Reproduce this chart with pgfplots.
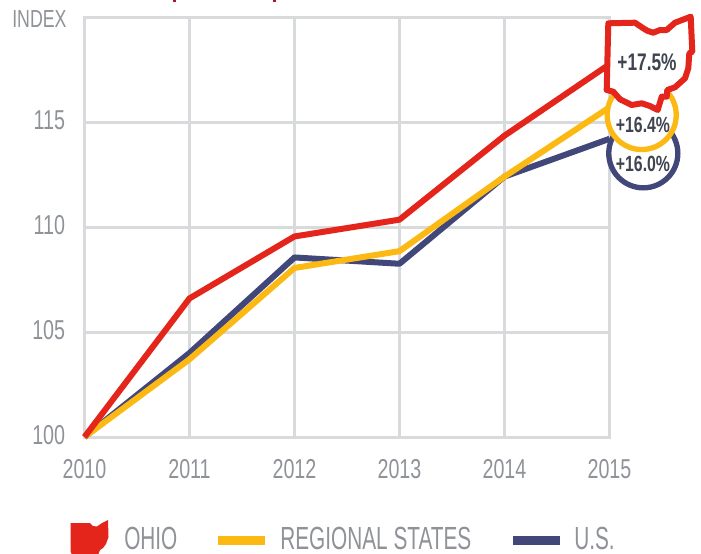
\documentclass[border=0pt]{standalone}
\usepackage{fontspec}
\setmainfont{Liberation Sans}[FakeStretch=0.72]
\newfontfamily\legfont{Liberation Sans}[FakeStretch=0.65]
\usepackage{pgfplots}
\pgfplotsset{compat=1.18}
\definecolor{gridc}{HTML}{D9DADB}
\definecolor{labc}{HTML}{8F9398}
\definecolor{ohio}{HTML}{E4251B}
\definecolor{reg}{HTML}{FDB913}
\definecolor{us}{HTML}{414778}
\definecolor{dark}{HTML}{3F4450}
\definecolor{crim}{HTML}{A6192E}
\def\ohioshape{(608.3,23.3) -- (635,22.7) -- (643.3,28.3) -- (647.3,30.7) -- (653.3,32.7) -- (660,30) -- (666.7,30) -- (675,22.7) -- (690.7,16.7) -- (692.3,51.7) -- (689.3,53.3) -- (688.3,68.3) -- (685,78.3) -- (675,87.3) -- (667.3,90) -- (666.7,96.7) -- (661.7,96.7) -- (657.7,110) -- (650,106) -- (641.7,103.3) -- (631.7,105) -- (620,99.3) -- (613.3,91.7) -- (606.7,90) -- cycle}
\begin{document}
\begin{tikzpicture}
\path (0pt,0pt) rectangle (525.75pt,-415.5pt);
\begin{axis}[
  at={(63.375pt,-327.75pt)}, anchor=south west,
  scale only axis, width=393.75pt, height=315pt,
  xmin=2010, xmax=2015, ymin=100, ymax=120,
  clip=false,
  xtick={2010,2011,2012,2013,2014,2015}, ytick={100,105,110,115},
  /pgf/number format/assume math mode=true,
  /pgf/number format/1000 sep={},
  tick style={draw=none},
  ticklabel style={font=\fontsize{20.5}{22}\selectfont, text=labc},
  xticklabel style={yshift=-13pt},
  yticklabel style={xshift=-11pt,yshift=1.5pt},
  grid=major,
  grid style={gridc,line width=2.25pt},
  axis line style={gridc,line width=2.25pt},
]
\addplot[us,line width=4.5pt,line join=round] coordinates {(2010,100) (2011,104.0) (2012,108.55) (2013,108.25) (2014,112.4) (2015,114.2)};
\addplot[reg,line width=4.5pt,line join=round] coordinates {(2010,100) (2011,103.7) (2012,108.05) (2013,108.85) (2014,112.4) (2015,115.7)};
\addplot[ohio,line width=4.5pt,line join=round] coordinates {(2010,100) (2011,106.6) (2012,109.55) (2013,110.35) (2014,114.35) (2015,117.75)};
\end{axis}
\begin{scope}[x=0.75pt,y=-0.75pt]
\fill[crim] (173,0) rectangle (176,1.5);
\fill[crim] (273,0) rectangle (276,1.5);
\node[anchor=base west,inner sep=0pt,text=labc,font=\fontsize{18.5}{22}\selectfont] at (12,27) {INDEX};
\draw[us,line width=4pt,fill=white] (643.3,153.3) circle[radius=25.9pt];
\draw[reg,line width=4pt,fill=white] (641.7,115) circle[radius=25.9pt];
\draw[ohio,line width=4.5pt,line join=round,fill=white] \ohioshape;
\node[text=dark,font=\bfseries\fontsize{18}{20}\selectfont,inner sep=0pt] at (647,62) {+17.5\%};
\node[text=dark,font=\bfseries\fontsize{16.5}{20}\selectfont,inner sep=0pt] at (643,125) {+16.4\%};
\node[text=dark,font=\bfseries\fontsize{16.5}{20}\selectfont,inner sep=0pt] at (643,164) {+16.0\%};
\begin{scope}
\clip (60,510) rectangle (120,554);
\fill[ohio] (70.5,523) -- (90,523) -- (93,526) -- (97,526.5) -- (102,523) -- (108,520) -- (108.5,537) -- (106,544) -- (103,548) -- (100,550) -- (98,555) -- (72,555) -- (70.5,551) -- cycle;
\end{scope}
\node[anchor=base west,inner sep=0pt,text=labc,font=\legfont\fontsize{24}{28}\selectfont] at (124,549) {OHIO};
\fill[reg] (218,536) rectangle (265,545);
\node[anchor=base west,inner sep=0pt,text=labc,font=\legfont\fontsize{24}{28}\selectfont] at (280,549) {REGIONAL STATES};
\fill[us] (513,536) rectangle (560,545);
\node[anchor=base west,inner sep=0pt,text=labc,font=\legfont\fontsize{24}{28}\selectfont] at (574,549) {U.S.};
\end{scope}
\end{tikzpicture}
\end{document}
